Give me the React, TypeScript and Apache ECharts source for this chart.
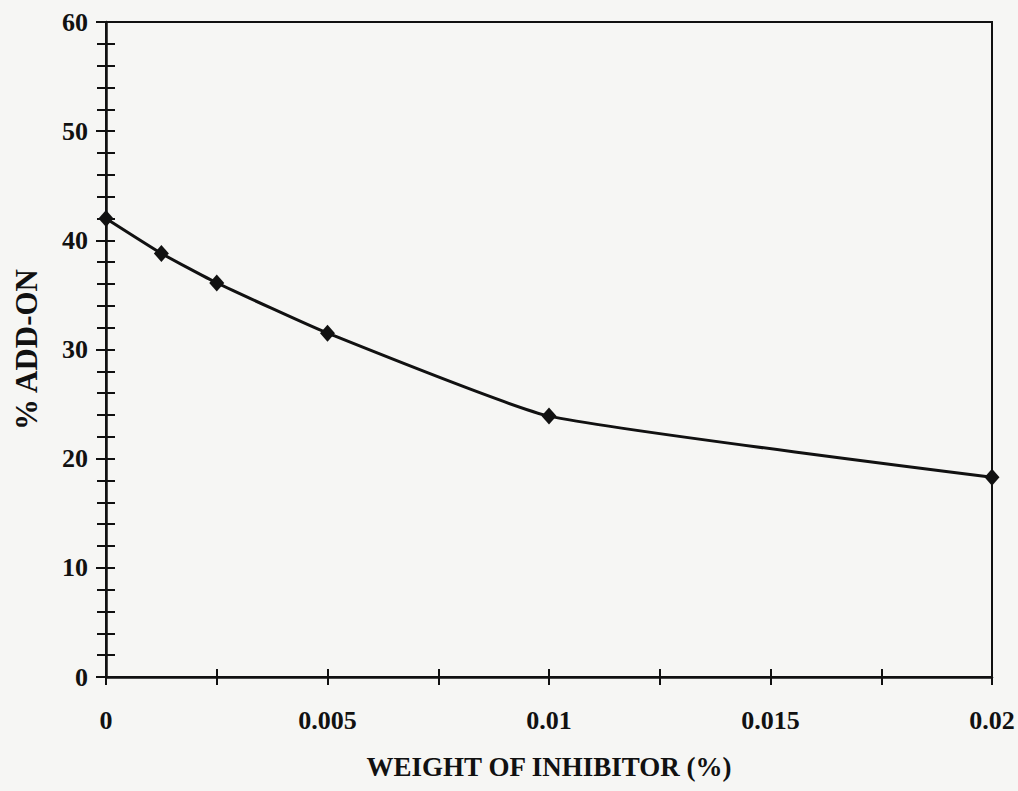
import React, { useEffect, useRef } from "react";
import * as echarts from "echarts";

// Inhibitor loading (weight %) and resulting add-on (%)
const inhibitorWeight = [0, 0.00125, 0.0025, 0.005, 0.01, 0.02];
const addOn = [42.0, 38.8, 36.1, 31.5, 23.9, 18.3];

const xTickLabels = ["0", "0.005", "0.01", "0.015", "0.02"];
const yTickLabels = ["0", "10", "20", "30", "40", "50", "60"];

const xTitle = "WEIGHT OF INHIBITOR (%)";
const yTitle = "% ADD-ON";

const INK = "#111111";
const FONT = "'Liberation Serif', 'Times New Roman', serif";

export default function App() {
  const ref = useRef<HTMLDivElement>(null);

  useEffect(() => {
    if (!ref.current) return;
    const chart = echarts.init(ref.current, undefined, { renderer: "svg" });

    const labelStyle = {
      color: INK,
      fontFamily: FONT,
      fontWeight: "bold" as const,
      fontSize: 26,
    };

    // One axis carries the outward ticks and labels, a twin carries the inward ticks,
    // so the tick marks cross the axis line.
    const xBase = {
      type: "value" as const,
      min: 0,
      max: 0.02,
      interval: 0.005,
      position: "bottom" as const,
      splitLine: { show: false },
      minorSplitLine: { show: false },
    };
    const yBase = {
      type: "value" as const,
      min: 0,
      max: 60,
      interval: 10,
      position: "left" as const,
      splitLine: { show: false },
      minorSplitLine: { show: false },
    };

    chart.setOption({
      animation: false,
      backgroundColor: "#f6f6f4",
      grid: {
        left: 106,
        right: 26,
        top: 22,
        bottom: 114,
        show: true,
        borderColor: INK,
        borderWidth: 2,
      },
      xAxis: [
        {
          ...xBase,
          name: xTitle,
          nameLocation: "middle",
          nameGap: 76,
          nameTextStyle: { ...labelStyle, fontSize: 27 },
          axisLine: { show: true, lineStyle: { color: INK, width: 2.5 } },
          axisTick: { show: true, inside: false, length: 8, lineStyle: { color: INK, width: 2 } },
          minorTick: { show: true, splitNumber: 2, length: 8, lineStyle: { color: INK, width: 2 } },
          axisLabel: {
            ...labelStyle,
            margin: 30,
            showMinLabel: true,
            showMaxLabel: true,
            formatter: (_v: number, i: number) => xTickLabels[i] ?? "",
          },
        },
        {
          ...xBase,
          axisLine: { show: false },
          axisTick: { show: true, inside: true, length: 8, lineStyle: { color: INK, width: 2 } },
          minorTick: { show: true, splitNumber: 2, length: 8, lineStyle: { color: INK, width: 2 } },
          axisLabel: { show: false },
        },
      ],
      yAxis: [
        {
          ...yBase,
          name: yTitle,
          nameLocation: "middle",
          nameGap: 64,
          nameRotate: 90,
          nameTextStyle: { ...labelStyle, fontSize: 31 },
          axisLine: { show: true, lineStyle: { color: INK, width: 2.5 } },
          axisTick: { show: true, inside: false, length: 10, lineStyle: { color: INK, width: 2 } },
          minorTick: { show: true, splitNumber: 5, length: 9, lineStyle: { color: INK, width: 2 } },
          axisLabel: {
            ...labelStyle,
            margin: 18,
            showMinLabel: true,
            showMaxLabel: true,
            formatter: (_v: number, i: number) => yTickLabels[i] ?? "",
          },
        },
        {
          ...yBase,
          axisLine: { show: false },
          axisTick: { show: true, inside: true, length: 9, lineStyle: { color: INK, width: 2 } },
          minorTick: { show: true, splitNumber: 5, length: 9, lineStyle: { color: INK, width: 2 } },
          axisLabel: { show: false },
        },
      ],
      series: [
        {
          type: "line",
          xAxisIndex: 0,
          yAxisIndex: 0,
          data: inhibitorWeight.map((w, i) => [w, addOn[i]]),
          smooth: 0.15,
          symbol: "diamond",
          symbolSize: [15, 17],
          itemStyle: { color: INK },
          lineStyle: { color: INK, width: 3 },
          clip: false,
          z: 5,
        },
      ],
    });

    return () => chart.dispose();
  }, []);

  return (
    <div
      ref={ref}
      style={{ position: "fixed", left: 0, top: 0, width: 1018, height: 791 }}
    />
  );
}
